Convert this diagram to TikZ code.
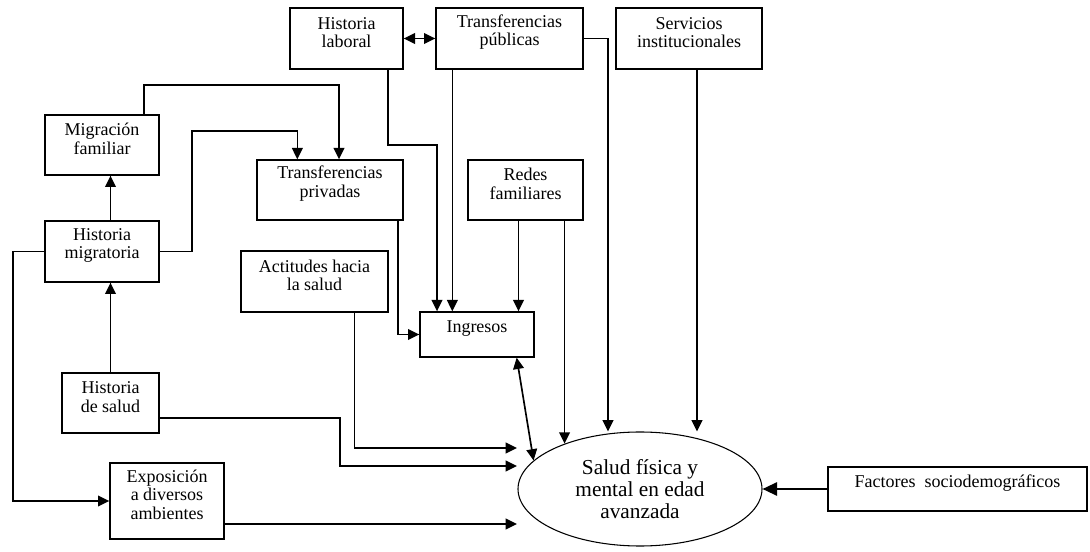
\documentclass[tikz,border=0pt]{standalone}
\usepackage{fontspec}
\setmainfont{Liberation Serif}
\usetikzlibrary{fit,arrows.meta,positioning,calc,shapes.geometric}

\begin{document}
\begin{tikzpicture}[x=0.75pt, y=-0.75pt,
		box/.style={draw, line width=1pt, inner sep=0pt, align=center, font=\fontsize{13.5}{14}\selectfont},
		link/.style={line width=1.25pt, -{Triangle[length=8.5pt, width=8pt]}},
		both/.style={line width=1.25pt, {Triangle[length=8.5pt, width=8pt]}-{Triangle[length=8.5pt, width=8pt]}}]
		\useasboundingbox (0,0) rectangle (1090,552);
		\node[box, fit={(290,8) (403,69)}] (hlab) {Historia\\laboral};
		\node[box, fit={(436,8) (583,69)}] (tpub) {Transferencias\\públicas};
		\node[box, fit={(616,8) (762,69)}] (srv) {Servicios\\institucionales};
		\node[box, fit={(45,115) (159,175)}] (mfam) {Migración\\familiar};
		\node[box, fit={(257,160) (403,220)}] (tpriv) {Transferencias\\privadas};
		\node[box, fit={(468,160) (583,220)}] (redes) {Redes\\familiares};
		\node[box, fit={(45,221) (159,282)}] (hmig) {Historia\\migratoria};
		\node[box, fit={(241,251) (388,312)}] (act) {Actitudes hacia\\la salud};
		\node[box, fit={(420,312) (534,357)}] (ingr) {Ingresos};
		\node[box, align=left, fit={(62,373) (159,433)}] (hsal) {Historia\\de salud};
		\node[box, align=left, fit={(110,463) (224,539)}] (expo) {Exposición\\a diversos\\ambientes};
		\node[box, line width=1.6pt, fit={(828,467) (1087,511)}] (fac) {Factores~ sociodemográficos};
		\node[draw, ellipse, line width=0.8pt, minimum width=183pt, minimum height=85.5pt, inner sep=0pt, align=center, font=\fontsize{16}{16.3}\selectfont] (salud) at (640,489) {Salud física y\\mental en edad\\avanzada};

		\coordinate (k1) at (437,145);
		\coordinate (k5) at (339,85);
		\coordinate (k6) at (192,131);
		\coordinate (k7) at (13,501);
		\coordinate (k8) at (340,466);
		\coordinate (e1) at (517,448);
		\coordinate (e2) at (517,466);
		\coordinate (e3) at (517,524);

		\draw[both] (hlab.east) -- (tpub.west);
		\draw[link] ($(hlab.south east)+(-16,0)$) |- (k1) -- (k1 |- ingr.north);
		\draw[link] ($(tpub.south west)+(17,0)$) coordinate (k2) -- (k2 |- ingr.north);
		\draw[link] (tpub.east) -| ($(salud.north)+(-32,0)$);
		\draw[link] ($(srv.south)+(8,0)$) coordinate (k3) -- (k3 |- salud.north);
		\draw[link] ($(redes.south)+(-7,0)$) coordinate (k4) -- (k4 |- ingr.north);
		\draw[link] (redes.south -| salud.149) -- (salud.149);
		\draw[link] ($(tpriv.south east)+(-6,0)$) |- (ingr.west);
		\draw[link] ($(mfam.north east)+(-16,0)$) |- (k5) -- (k5 |- tpriv.north);
		\draw[link] (hmig.east) -| (k6) -| ($(tpriv.north west)+(41,0)$);
		\draw[link] (hsal.north) -- (hsal.north |- hmig.south);
		\draw[link] (hsal.north |- hmig.north) -- (hsal.north |- mfam.south);
		\draw[link] (hmig.west) -| (k7) -- (expo.west);
		\draw[link] ($(act.south)+(40,0)$) |- (e1);
		\draw[link] ($(hsal.east)+(0,15)$) -| (k8) -- (e2);
		\draw[link] ($(expo.east)+(0,23)$) -- (e3);
		\draw[both] ($(ingr.south east)+(-18,0)$) -- (salud.165);
		\draw[line width=1.6pt, -{Triangle[length=11pt, width=10pt]}] (fac.west) -- (salud.east);
	\end{tikzpicture}
\end{document}
